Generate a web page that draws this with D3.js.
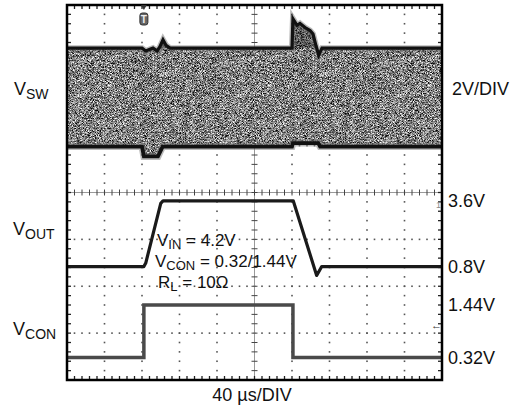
<!DOCTYPE html>
<html><head><meta charset="utf-8">
<script src="https://cdn.jsdelivr.net/npm/d3@7"></script>
<style>
html,body{margin:0;padding:0;background:#fff;}
svg{display:block;font-family:"Liberation Sans",Arial,sans-serif;}
</style></head>
<body>
<svg id="c" width="513" height="411"></svg>
<script>
// ---- data ----
const timeDivs = 10;           // horizontal divisions (40 us/DIV)
const usPerDiv = 40;
const voltDivs = 8;            // vertical divisions
// V_SW envelope (top edge = switch high, bottom edge = switch low), time in us, volts
const vswUpperT = [0, 80, 84, 88.5, 91.7, 96, 99, 102.4, 105.6, 110, 240, 241, 245.3, 248.5, 253.9, 259.2, 262.4, 265.6, 268.5, 272, 400];
const vswUpperV = [4.2, 4.2, 4.08, 4.15, 4.2, 4.08, 4.25, 4.55, 4.32, 4.2, 4.2, 5.45, 5.17, 5.25, 5.08, 4.95, 4.8, 4.3, 3.9, 4.2, 4.2];
const vswLowerT = [0, 80, 82, 97, 102, 240, 241, 268, 270, 400];
const vswLowerV = [0, 0, -0.42, -0.42, 0, 0, 0.15, 0.15, 0, 0];
// V_OUT
const voutT = [0, 82, 84, 100, 102.4, 104, 241.4, 266.3, 271.7, 400];
const voutV = [0.8, 0.8, 0.95, 3.5, 3.6, 3.6, 3.6, 0.42, 0.8, 0.8];
// V_CON
const vconT = [0, 82, 82, 241, 241, 400];
const vconV = [0.32, 0.32, 1.44, 1.44, 0.32, 0.32];
// channel settings: volts/div and ground position (divisions from bottom)
const chVSW  = {vdiv: 2, zero: 4.98};
const chVOUT = {vdiv: 2, zero: 2.02};
const chVCON = {vdiv: 1, zero: 0.16};
// level labels
const voutLevels = [3.6, 0.8];
const vconLevels = [1.44, 0.32];
const levelText = {"3.6": "3.6V", "0.8": "0.8V", "1.44": "1.44V", "0.32": "0.32V"};

// ---- layout ----
const L = 67, R = 442, T = 5, B = 380;
const svg = d3.select("#c");
const x = d3.scaleLinear().domain([0, timeDivs * usPerDiv]).range([L, R]);
const yd = d3.scaleLinear().domain([0, voltDivs]).range([B, T]);
const yCh = ch => v => yd(ch.zero + v / ch.vdiv);
const ySW = yCh(chVSW), yOUT = yCh(chVOUT), yCON = yCh(chVCON);

const defs = svg.append("defs");
const f = defs.append("filter").attr("id", "noise").attr("x", 0).attr("y", 0)
  .attr("width", "100%").attr("height", "100%").attr("color-interpolation-filters", "sRGB");
f.append("feTurbulence").attr("type", "fractalNoise").attr("baseFrequency", 1.6)
  .attr("numOctaves", 1).attr("seed", 7).attr("result", "turb");
f.append("feColorMatrix").attr("in", "turb").attr("type", "matrix")
  .attr("values", "2.2 0 0 0 -0.6  2.2 0 0 0 -0.6  2.2 0 0 0 -0.6  0 0 0 0 1").attr("result", "gray");
f.append("feComposite").attr("in", "gray").attr("in2", "SourceGraphic").attr("operator", "in");

// ---- grid ----
const grid = svg.append("g");
const dotC = "#555";
for (let i = 1; i < timeDivs; i++) {
  if (i === timeDivs / 2) continue;
  for (let j = 1; j < voltDivs * 5; j++) {
    grid.append("rect").attr("x", x(i * usPerDiv) - 0.8).attr("y", yd(j / 5) - 0.8)
      .attr("width", 1.6).attr("height", 1.6).attr("fill", dotC);
  }
}
for (let j = 1; j < voltDivs; j++) {
  if (j === voltDivs / 2) continue;
  for (let i = 1; i < timeDivs * 5; i++) {
    grid.append("rect").attr("x", x(i * usPerDiv / 5) - 0.8).attr("y", yd(j) - 0.8)
      .attr("width", 1.6).attr("height", 1.6).attr("fill", dotC);
  }
}
// center lines with ticks
const cx = x(timeDivs * usPerDiv / 2), cy = yd(voltDivs / 2);
grid.append("line").attr("x1", cx).attr("x2", cx).attr("y1", T).attr("y2", B).attr("stroke", "#999").attr("stroke-width", 1);
grid.append("line").attr("x1", L).attr("x2", R).attr("y1", cy).attr("y2", cy).attr("stroke", "#999").attr("stroke-width", 1);
for (let j = 1; j < voltDivs * 5; j++) {
  const yy = yd(j / 5);
  grid.append("line").attr("x1", cx - 3).attr("x2", cx + 3).attr("y1", yy).attr("y2", yy).attr("stroke", "#444");
  grid.append("line").attr("x1", L).attr("x2", L + 4).attr("y1", yy).attr("y2", yy).attr("stroke", "#222").attr("stroke-width", 1.3);
  grid.append("line").attr("x1", R - 4).attr("x2", R).attr("y1", yy).attr("y2", yy).attr("stroke", "#222").attr("stroke-width", 1.3);
}
for (let i = 1; i < timeDivs * 5; i++) {
  const xx = x(i * usPerDiv / 5);
  grid.append("line").attr("x1", xx).attr("x2", xx).attr("y1", cy - 3).attr("y2", cy + 3).attr("stroke", "#444");
  grid.append("line").attr("x1", xx).attr("x2", xx).attr("y1", T).attr("y2", T + 4).attr("stroke", "#222").attr("stroke-width", 1.3);
  grid.append("line").attr("x1", xx).attr("x2", xx).attr("y1", B - 4).attr("y2", B).attr("stroke", "#222").attr("stroke-width", 1.3);
}

// ---- V_SW band ----
const upper = vswUpperT.map((t, i) => [t, vswUpperV[i]]);
const lower = vswLowerT.map((t, i) => [t, vswLowerV[i]]);
const bandPts = upper.map(d => [x(d[0]), ySW(d[1])]).concat(lower.slice().reverse().map(d => [x(d[0]), ySW(d[1])]));
svg.append("path").attr("d", "M" + bandPts.join("L") + "Z").attr("fill", "#888").attr("filter", "url(#noise)");
// darker spike region above nominal high
const spikeArea = d3.area().x(d => x(d[0])).y0(ySW(4.2)).y1(d => ySW(Math.max(d[1], 4.2)));
svg.append("path").datum(upper).attr("d", spikeArea).attr("fill", "#000").attr("opacity", 0.3);
// soft fringe + dark edges
const lnSW = d3.line().x(d => x(d[0])).y(d => ySW(d[1]));
svg.append("path").datum(upper).attr("d", lnSW).attr("fill", "none").attr("stroke", "#777").attr("stroke-width", 6).attr("opacity", 0.5);
svg.append("path").datum(lower).attr("d", lnSW).attr("fill", "none").attr("stroke", "#777").attr("stroke-width", 7).attr("opacity", 0.5);
svg.append("path").datum(upper).attr("d", lnSW).attr("fill", "none")
  .attr("stroke", "#111").attr("stroke-width", 3.2);
svg.append("path").datum(lower).attr("d", lnSW).attr("fill", "none")
  .attr("stroke", "#111").attr("stroke-width", 3.8);

// ---- V_OUT ----
const vout = voutT.map((t, i) => [t, voutV[i]]);
svg.append("path").datum(vout).attr("d", d3.line().x(d => x(d[0])).y(d => yOUT(d[1]))).attr("fill", "none")
  .attr("stroke", "#1a1a1a").attr("stroke-width", 3.2).attr("stroke-linejoin", "round");
// ---- V_CON ----
const vcon = vconT.map((t, i) => [t, vconV[i]]);
svg.append("path").datum(vcon).attr("d", d3.line().x(d => x(d[0])).y(d => yCON(d[1]))).attr("fill", "none")
  .attr("stroke", "#4a4a4a").attr("stroke-width", 3.5);

// ---- frame ----
svg.append("rect").attr("x", L).attr("y", T).attr("width", R - L).attr("height", B - T)
  .attr("fill", "none").attr("stroke", "#000").attr("stroke-width", 2.5);

// trigger marker
const tx = x(vconT[1]);
svg.append("path").attr("d", `M${tx - 3},${T}L${tx + 3},${T}L${tx},${T + 5}Z`).attr("fill", "#333");
svg.append("rect").attr("x", tx - 4).attr("y", 13).attr("width", 8).attr("height", 12).attr("rx", 2.5)
  .attr("fill", "#666").attr("stroke", "#333").attr("stroke-width", 1);
svg.append("text").attr("x", tx).attr("y", 22.5).attr("text-anchor", "middle").attr("font-size", 10)
  .attr("font-weight", "bold").attr("fill", "#eee").text("T");
// right-edge channel markers
svg.append("text").attr("x", 436).attr("y", 208).attr("font-size", 9).attr("fill", "#888").text("1");
svg.append("text").attr("x", 431).attr("y", 329).attr("font-size", 11).attr("fill", "#333").text("←");

// ---- labels ----
function subLabel(xp, yp, main, sub, size, subSize, rest, shift) {
  const s = shift || 4;
  const t = svg.append("text").attr("x", xp).attr("y", yp).attr("font-size", size).attr("fill", "#111");
  t.append("tspan").text(main);
  t.append("tspan").attr("font-size", subSize).attr("dy", s).text(sub);
  if (rest) t.append("tspan").attr("dy", -s).text(rest);
  return t;
}
subLabel(14, 95, "V", "SW", 18, 14);
subLabel(13, 235, "V", "OUT", 18, 14);
subLabel(13, 335, "V", "CON", 18, 14);
svg.append("text").attr("x", 452).attr("y", 95).attr("font-size", 18).attr("fill", "#111").text("2V/DIV");
voutLevels.forEach(v => svg.append("text").attr("x", 448).attr("y", yOUT(v)).attr("dy", "0.36em")
  .attr("font-size", 18).attr("fill", "#111").text(levelText[v]));
vconLevels.forEach(v => svg.append("text").attr("x", 448).attr("y", yCON(v)).attr("dy", "0.36em")
  .attr("font-size", 18).attr("fill", "#111").text(levelText[v]));
svg.append("text").attr("x", 252).attr("y", 401).attr("text-anchor", "middle").attr("font-size", 18)
  .attr("fill", "#111").text("40 µs/DIV");
// annotations
subLabel(157, 246, "V", "IN", 17, 13, " = 4.2V", 3);
subLabel(155, 267, "V", "CON", 17, 13, " = 0.32/1.44V", 3);
subLabel(158, 288, "R", "L", 17, 13, " = 10Ω", 3);
</script>
</body></html>
